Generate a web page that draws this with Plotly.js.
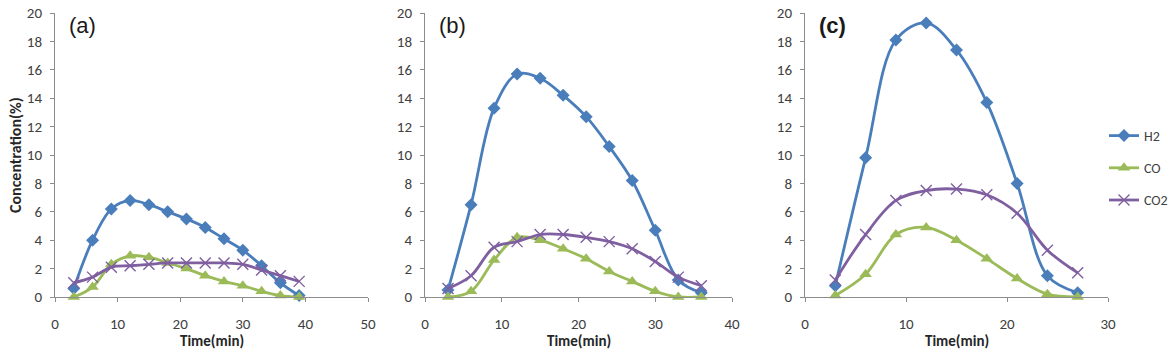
<!DOCTYPE html>
<html>
<head>
<meta charset="utf-8">
<script src="https://cdn.plot.ly/plotly-3.0.1.min.js"></script>
<style>
  html, body { margin: 0; padding: 0; background: #fff; }
  #chart { width: 1173px; height: 353px; }
</style>
</head>
<body>
<div id="chart"></div>
<script>
// Gas concentrations over time for three runs (a), (b), (c)
const time_a = [3, 6, 9, 12, 15, 18, 21, 24, 27, 30, 33, 36, 39];
const h2_a   = [0.6, 4.0, 6.2, 6.8, 6.5, 6.0, 5.5, 4.9, 4.1, 3.3, 2.2, 1.0, 0.1];
const co_a   = [0.0, 0.7, 2.3, 2.9, 2.8, 2.4, 2.0, 1.5, 1.1, 0.8, 0.4, 0.1, 0.0];
const co2_a  = [1.0, 1.4, 2.1, 2.2, 2.3, 2.4, 2.4, 2.4, 2.4, 2.3, 1.9, 1.5, 1.1];

const time_b = [3, 6, 9, 12, 15, 18, 21, 24, 27, 30, 33, 36];
const h2_b   = [0.5, 6.5, 13.3, 15.7, 15.4, 14.2, 12.7, 10.6, 8.2, 4.7, 1.2, 0.3];
const co_b   = [0.0, 0.4, 2.6, 4.2, 4.0, 3.4, 2.7, 1.8, 1.1, 0.4, 0.0, 0.0];
const co2_b  = [0.6, 1.5, 3.5, 3.9, 4.4, 4.4, 4.2, 3.9, 3.4, 2.5, 1.4, 0.8];

const time_c = [3, 6, 9, 12, 15, 18, 21, 24, 27];
const h2_c   = [0.8, 9.8, 18.1, 19.3, 17.4, 13.7, 8.0, 1.5, 0.3];
const co_c   = [0.1, 1.6, 4.4, 4.9, 4.0, 2.7, 1.3, 0.2, 0.0];
const co2_c  = [1.2, 4.4, 6.8, 7.5, 7.6, 7.2, 5.9, 3.3, 1.7];

const panelLabels = ['(a)', '(b)', '(c)'];
const seriesNames = ['H2', 'CO', 'CO2'];
const xMax = [50, 40, 30];
const xTitle = 'Time(min)';
const yTitle = 'Concentration(%)';

const FONT = 'Carlito, Calibri, "Liberation Sans", Arial, sans-serif';
const LABEL_FONT = '"Liberation Sans", Arial, sans-serif';
const colors = { H2: '#4a7ebb', CO: '#9bbb59', CO2: '#7f5fa0' };
const markers = {
  H2:  { symbol: 'diamond', size: 10 },
  CO:  { symbol: 'triangle-up', size: 11 },
  CO2: { symbol: 'x-thin-open', size: 11 }
};

const panels = [
  { t: time_a, H2: h2_a, CO: co_a, CO2: co2_a },
  { t: time_b, H2: h2_b, CO: co_b, CO2: co2_b },
  { t: time_c, H2: h2_c, CO: co_c, CO2: co2_c }
];

const traces = [];
panels.forEach((p, i) => {
  const sfx = i === 0 ? '' : String(i + 1);
  seriesNames.forEach(name => {
    const m = markers[name];
    traces.push({
      type: 'scatter',
      mode: 'lines+markers',
      name: name,
      x: p.t,
      y: p[name],
      xaxis: 'x' + sfx,
      yaxis: 'y' + sfx,
      legendgroup: name,
      showlegend: i === 2,
      line: { color: colors[name], width: 2.8, shape: 'spline', smoothing: 1 },
      marker: {
        symbol: m.symbol,
        size: m.size,
        color: colors[name],
        line: { color: colors[name], width: name === 'CO2' ? 1.4 : 0 }
      },
      cliponaxis: false
    });
  });
});

// Pixel geometry of the three plot areas
const W = 1173, H = 353;
const xPix = [[55, 368], [425, 732], [805, 1108]];
const yTop = 13, yBot = 297;
const yDom = [1 - yBot / H, 1 - yTop / H];

const axisCommon = {
  showgrid: false,
  zeroline: false,
  showline: true,
  linecolor: '#8c8c8c',
  linewidth: 1,
  ticks: 'outside',
  tickcolor: '#8c8c8c',
  ticklen: 4,
  tickwidth: 1,
  tickfont: { family: FONT, size: 15, color: '#404040' },
  fixedrange: true
};

const layout = {
  width: W,
  height: H,
  margin: { l: 0, r: 0, t: 0, b: 0 },
  paper_bgcolor: '#ffffff',
  plot_bgcolor: '#ffffff',
  font: { family: FONT, color: '#404040' },
  showlegend: true,
  legend: {
    x: 1104 / W, xanchor: 'left',
    y: 1 - 120 / H, yanchor: 'top',
    font: { family: FONT, size: 14, color: '#404040' },
    tracegroupgap: 11,
    itemwidth: 30,
    bgcolor: 'rgba(0,0,0,0)'
  },
  annotations: []
};

const titleFont = { family: FONT, size: 15, color: '#262626', weight: 'bold' };

panels.forEach((p, i) => {
  const sfx = i === 0 ? '' : String(i + 1);
  layout['xaxis' + sfx] = Object.assign({}, axisCommon, {
    domain: [xPix[i][0] / W, xPix[i][1] / W],
    range: [0, xMax[i]],
    dtick: 10,
    tick0: 0,
    anchor: 'y' + sfx,
    ticklabelstandoff: 9
  });
  layout['yaxis' + sfx] = Object.assign({}, axisCommon, {
    domain: yDom,
    range: [0, 20],
    dtick: 2,
    tick0: 0,
    anchor: 'x' + sfx,
    ticklabelstandoff: 5
  });
  // axis title under each panel, against the bottom edge
  layout.annotations.push({
    text: xTitle,
    xref: 'x' + sfx + ' domain', yref: 'paper',
    x: 0.5, xanchor: 'center',
    y: 0, yanchor: 'bottom',
    yshift: 1,
    showarrow: false,
    font: titleFont
  });
  layout.annotations.push({
    text: panelLabels[i],
    xref: 'paper', yref: 'paper',
    x: (xPix[i][0] + 12) / W, xanchor: 'left',
    y: 1 - 25 / H, yanchor: 'middle',
    showarrow: false,
    font: { family: LABEL_FONT, size: 22, color: '#1a1a1a', weight: i === 2 ? 'bold' : 'normal' }
  });
});

layout.annotations.push({
  text: yTitle,
  xref: 'paper', yref: 'paper',
  x: 15 / W, xanchor: 'center',
  y: 1 - 155 / H, yanchor: 'middle',
  textangle: -90,
  showarrow: false,
  font: { family: FONT, size: 16, color: '#262626', weight: 'bold' }
});

Plotly.newPlot('chart', traces, layout, { displayModeBar: false, staticPlot: true });
</script>
</body>
</html>
